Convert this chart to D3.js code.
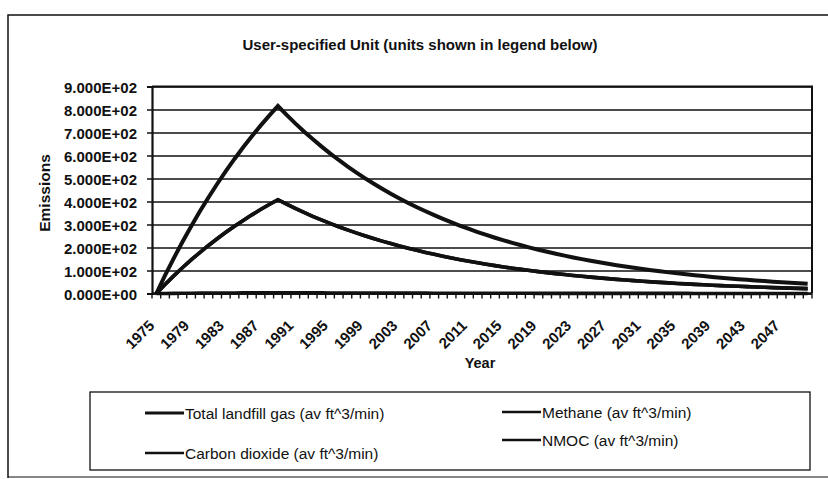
<!DOCTYPE html>
<html>
<head>
<meta charset="utf-8">
<script src="https://cdn.jsdelivr.net/npm/d3@7"></script>
<style>
  body { margin: 0; background: #fff; }
  svg { display: block; font-family: "Liberation Sans", Arial, sans-serif; }
</style>
</head>
<body>
<svg id="chart" width="828" height="479"></svg>
<script>
// Emission years (one category per year)
const years = [
  1975, 1976, 1977, 1978, 1979, 1980, 1981, 1982, 1983, 1984,
  1985, 1986, 1987, 1988, 1989, 1990, 1991, 1992, 1993, 1994,
  1995, 1996, 1997, 1998, 1999, 2000, 2001, 2002, 2003, 2004,
  2005, 2006, 2007, 2008, 2009, 2010, 2011, 2012, 2013, 2014,
  2015, 2016, 2017, 2018, 2019, 2020, 2021, 2022, 2023, 2024,
  2025, 2026, 2027, 2028, 2029, 2030, 2031, 2032, 2033, 2034,
  2035, 2036, 2037, 2038, 2039, 2040, 2041, 2042, 2043, 2044,
  2045, 2046, 2047, 2048, 2049, 2050
];

// Years that carry a label on the category axis
const yearLabels = [1975, 1979, 1983, 1987, 1991, 1995, 1999, 2003, 2007, 2011,
  2015, 2019, 2023, 2027, 2031, 2035, 2039, 2043, 2047];

// Value axis
const yTicks = [0, 100, 200, 300, 400, 500, 600, 700, 800, 900];
const yTickLabels = ["0.000E+00", "1.000E+02", "2.000E+02", "3.000E+02", "4.000E+02",
  "5.000E+02", "6.000E+02", "7.000E+02", "8.000E+02", "9.000E+02"];

// Series (av ft^3/min)
const totalGas = [
  0, 78.3, 152.9, 224.0, 291.7, 356.2, 417.6, 476.1, 531.9, 585.0,
  635.6, 683.9, 729.8, 773.5, 815.2, 776.6, 739.8, 704.8, 671.4, 639.7,
  609.4, 580.5, 553.0, 526.8, 501.9, 478.1, 455.5, 433.9, 413.4, 393.8,
  375.2, 357.4, 340.5, 324.4, 309.0, 294.4, 280.5, 267.2, 254.5, 242.5,
  231.0, 220.1, 209.6, 199.7, 190.3, 181.3, 172.7, 164.5, 156.7, 149.3,
  142.2, 135.5, 129.1, 123.0, 117.1, 111.6, 106.3, 101.3, 96.5, 91.9,
  87.6, 83.4, 79.5, 75.7, 72.1, 68.7, 65.5, 62.4, 59.4, 56.6,
  53.9, 51.4, 48.9, 46.6, 44.4, 42.3
];
const methane = [
  0, 39.2, 76.5, 112.0, 145.9, 178.1, 208.8, 238.1, 266.0, 292.5,
  317.8, 342.0, 364.9, 386.8, 407.6, 388.3, 369.9, 352.4, 335.7, 319.9,
  304.7, 290.3, 276.5, 263.4, 251.0, 239.1, 227.8, 217.0, 206.7, 196.9,
  187.6, 178.7, 170.3, 162.2, 154.5, 147.2, 140.3, 133.6, 127.3, 121.3,
  115.5, 110.1, 104.8, 99.9, 95.2, 90.7, 86.4, 82.3, 78.4, 74.7,
  71.1, 67.8, 64.6, 61.5, 58.6, 55.8, 53.2, 50.7, 48.3, 46.0,
  43.8, 41.7, 39.8, 37.9, 36.1, 34.4, 32.8, 31.2, 29.7, 28.3,
  27.0, 25.7, 24.5, 23.3, 22.2, 21.2
];
const carbonDioxide = [
  0, 39.2, 76.5, 112.0, 145.9, 178.1, 208.8, 238.1, 266.0, 292.5,
  317.8, 342.0, 364.9, 386.8, 407.6, 388.3, 369.9, 352.4, 335.7, 319.9,
  304.7, 290.3, 276.5, 263.4, 251.0, 239.1, 227.8, 217.0, 206.7, 196.9,
  187.6, 178.7, 170.3, 162.2, 154.5, 147.2, 140.3, 133.6, 127.3, 121.3,
  115.5, 110.1, 104.8, 99.9, 95.2, 90.7, 86.4, 82.3, 78.4, 74.7,
  71.1, 67.8, 64.6, 61.5, 58.6, 55.8, 53.2, 50.7, 48.3, 46.0,
  43.8, 41.7, 39.8, 37.9, 36.1, 34.4, 32.8, 31.2, 29.7, 28.3,
  27.0, 25.7, 24.5, 23.3, 22.2, 21.2
];
const nmoc = [
  0, 0.31, 0.61, 0.90, 1.17, 1.42, 1.67, 1.90, 2.13, 2.34,
  2.54, 2.74, 2.92, 3.09, 3.26, 3.11, 2.96, 2.82, 2.69, 2.56,
  2.44, 2.32, 2.21, 2.11, 2.01, 1.91, 1.82, 1.74, 1.65, 1.58,
  1.50, 1.43, 1.36, 1.30, 1.24, 1.18, 1.12, 1.07, 1.02, 0.97,
  0.92, 0.88, 0.84, 0.80, 0.76, 0.73, 0.69, 0.66, 0.63, 0.60,
  0.57, 0.54, 0.52, 0.49, 0.47, 0.45, 0.43, 0.41, 0.39, 0.37,
  0.35, 0.33, 0.32, 0.30, 0.29, 0.27, 0.26, 0.25, 0.24, 0.23,
  0.22, 0.21, 0.20, 0.19, 0.18, 0.17
];

const seriesNames = [
  "Total landfill gas (av ft^3/min)",
  "Methane (av ft^3/min)",
  "Carbon dioxide (av ft^3/min)",
  "NMOC (av ft^3/min)"
];
const seriesValues = [totalGas, methane, carbonDioxide, nmoc];

const titleText = "User-specified Unit (units shown in legend below)";
const xTitle = "Year";
const yTitle = "Emissions";

// ---- layout ----
const W = 828, H = 479;
const plot = { left: 152, right: 812, top: 86.5, bottom: 293.5 };
const ink = "#111";

const svg = d3.select("#chart");
svg.append("rect").attr("width", W).attr("height", H).attr("fill", "#fff");

// outer chart frame
svg.append("path")
  .attr("d", `M8,${H - 1} L8,15 L${W},15`)
  .attr("fill", "none").attr("stroke", ink).attr("stroke-width", 1.5);
svg.append("line")
  .attr("x1", 8).attr("x2", W).attr("y1", 477).attr("y2", 477)
  .attr("stroke", ink).attr("stroke-width", 1.2);

// scales
const x = d3.scalePoint().domain(years).range([plot.left, plot.right]).padding(0.5);
const xBand = d3.scaleBand().domain(years).range([plot.left, plot.right]);
const y = d3.scaleLinear().domain([0, 900]).range([plot.bottom, plot.top]);

// horizontal gridlines
svg.append("g")
  .attr("transform", `translate(${plot.left},0)`)
  .call(d3.axisLeft(y).tickValues(yTicks).tickSize(-(plot.right - plot.left)).tickFormat(""))
  .call(g => g.select(".domain").remove())
  .call(g => g.selectAll(".tick line").attr("stroke", ink).attr("stroke-width", 1.3));

// plot frame (top and right)
svg.append("path")
  .attr("d", `M${plot.left},${plot.top} L${plot.right},${plot.top} L${plot.right},${plot.bottom}`)
  .attr("fill", "none").attr("stroke", ink).attr("stroke-width", 2);

// value axis
svg.append("g")
  .attr("transform", `translate(${plot.left},0)`)
  .call(d3.axisLeft(y).tickValues(yTicks).tickSize(5).tickPadding(10)
    .tickFormat((d, i) => yTickLabels[i]))
  .call(g => g.select(".domain").attr("stroke", ink).attr("stroke-width", 2.2))
  .call(g => g.selectAll(".tick line").attr("stroke", ink).attr("stroke-width", 1.5))
  .call(g => g.selectAll(".tick text")
    .attr("fill", ink)
    .attr("font-family", "Liberation Sans, Arial, sans-serif")
    .attr("font-size", 15)
    .attr("font-weight", "bold")
    .attr("dy", "0.38em"));

// category axis line and tick marks at category boundaries
svg.append("line")
  .attr("x1", plot.left).attr("x2", plot.right)
  .attr("y1", plot.bottom).attr("y2", plot.bottom)
  .attr("stroke", ink).attr("stroke-width", 2.5);
const boundaries = years.map(d => xBand(d)).concat([plot.right]);
svg.append("g").selectAll("line")
  .data(boundaries)
  .join("line")
  .attr("x1", d => d).attr("x2", d => d)
  .attr("y1", plot.bottom).attr("y2", plot.bottom + 5)
  .attr("stroke", ink).attr("stroke-width", 1.4);

// rotated year labels
svg.append("g").selectAll("text")
  .data(yearLabels)
  .join("text")
  .attr("transform", d => `translate(${x(d) - 1},${plot.bottom + 33}) rotate(-45)`)
  .attr("text-anchor", "end")
  .attr("font-size", 15)
  .attr("font-weight", "bold")
  .attr("fill", ink)
  .text(d => d);

// series lines
const line = d3.line()
  .x((d, i) => x(years[i]))
  .y(d => y(d));
const drawOrder = [3, 2, 1, 0];
svg.append("g").selectAll("path")
  .data(drawOrder)
  .join("path")
  .attr("d", k => line(seriesValues[k]))
  .attr("fill", "none")
  .attr("stroke", ink)
  .attr("stroke-width", k => (k === 0 ? 4 : 3.6))
  .attr("stroke-linejoin", "miter");

// titles
svg.append("text")
  .attr("x", 420).attr("y", 50)
  .attr("text-anchor", "middle")
  .attr("font-size", 15).attr("font-weight", "bold").attr("fill", ink)
  .text(titleText);
svg.append("text")
  .attr("x", (plot.left + plot.right) / 2 - 2).attr("y", 368)
  .attr("text-anchor", "middle")
  .attr("font-size", 14.5).attr("font-weight", "bold").attr("fill", ink)
  .text(xTitle);
svg.append("text")
  .attr("transform", `translate(50,${(plot.top + plot.bottom) / 2 + 3}) rotate(-90)`)
  .attr("text-anchor", "middle")
  .attr("font-size", 15.5).attr("font-weight", "bold").attr("fill", ink)
  .text(yTitle);

// legend
svg.append("rect")
  .attr("x", 90).attr("y", 392).attr("width", 720).attr("height", 78)
  .attr("fill", "#fff").attr("stroke", ink).attr("stroke-width", 1.3);
const legendPos = [
  { x: 145, y: 413 },
  { x: 502, y: 412 },
  { x: 145, y: 453 },
  { x: 502, y: 440 }
];
const legendItems = svg.append("g").selectAll("g")
  .data(seriesNames)
  .join("g")
  .attr("transform", (d, i) => `translate(${legendPos[i].x},${legendPos[i].y})`);
legendItems.append("line")
  .attr("x1", 0).attr("x2", 39).attr("y1", 0).attr("y2", 0)
  .attr("stroke", ink).attr("stroke-width", (d, i) => (i === 0 ? 3 : 2.4));
legendItems.append("text")
  .attr("x", 40).attr("dy", "0.36em")
  .attr("font-size", 15.5).attr("fill", ink)
  .text(d => d);
</script>
</body>
</html>
